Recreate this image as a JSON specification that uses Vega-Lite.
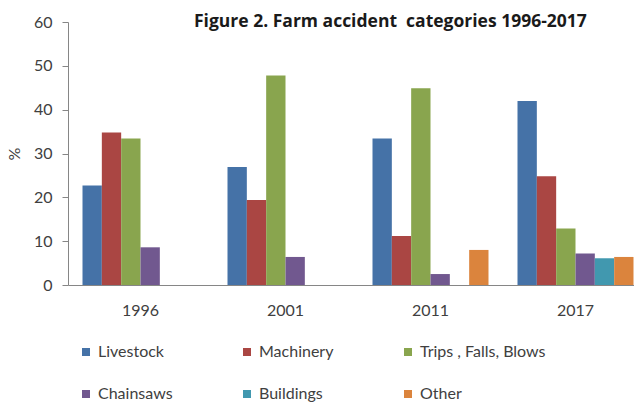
{
  "$schema": "https://vega.github.io/schema/vega-lite/v6.json",
  "width": 566,
  "height": 263,
  "autosize": {"type": "none"},
  "padding": {"left": 68, "top": 22, "right": 0, "bottom": 118},
  "background": "white",
  "title": {
    "text": "Figure 2. Farm accident\u00a0 categories 1996-2017",
    "anchor": "start",
    "frame": "group",
    "baseline": "alphabetic",
    "dx": 126,
    "dy": 30,
    "offset": 0,
    "font": "Open Sans",
    "fontSize": 17.5,
    "fontWeight": "bold",
    "color": "#1a1a1a"
  },
  "data": {
    "values": [
      {"year": "1996", "category": "Livestock", "value": 22.7},
      {"year": "1996", "category": "Machinery", "value": 34.8},
      {"year": "1996", "category": "Trips , Falls, Blows", "value": 33.4},
      {"year": "1996", "category": "Chainsaws", "value": 8.6},
      {"year": "2001", "category": "Livestock", "value": 26.9},
      {"year": "2001", "category": "Machinery", "value": 19.4},
      {"year": "2001", "category": "Trips , Falls, Blows", "value": 47.8},
      {"year": "2001", "category": "Chainsaws", "value": 6.4},
      {"year": "2011", "category": "Livestock", "value": 33.4},
      {"year": "2011", "category": "Machinery", "value": 11.2},
      {"year": "2011", "category": "Trips , Falls, Blows", "value": 44.9},
      {"year": "2011", "category": "Chainsaws", "value": 2.5},
      {"year": "2011", "category": "Other", "value": 8.0},
      {"year": "2017", "category": "Livestock", "value": 42.0},
      {"year": "2017", "category": "Machinery", "value": 24.8},
      {"year": "2017", "category": "Trips , Falls, Blows", "value": 12.9},
      {"year": "2017", "category": "Chainsaws", "value": 7.2},
      {"year": "2017", "category": "Buildings", "value": 6.1},
      {"year": "2017", "category": "Other", "value": 6.4}
    ]
  },
  "mark": {"type": "bar"},
  "encoding": {
    "x": {
      "field": "year",
      "type": "nominal",
      "scale": {"range": [0, 580], "paddingInner": 0.2, "paddingOuter": 0.1},
      "axis": {
        "title": null,
        "labelAngle": 0,
        "ticks": false,
        "labelPadding": 17,
        "domainColor": "#868686",
        "labelFontSize": 16,
        "labelFont": "Lato",
        "labelColor": "#404040"
      }
    },
    "xOffset": {
      "field": "category",
      "type": "nominal",
      "scale": {
        "domain": ["Livestock", "Machinery", "Trips , Falls, Blows", "Chainsaws", "Buildings", "Other"],
        "paddingInner": 0,
        "paddingOuter": 0
      }
    },
    "y": {
      "field": "value",
      "type": "quantitative",
      "scale": {"domain": [0, 60]},
      "axis": {
        "title": "%",
        "titleFont": "Lato",
        "titleFontSize": 16,
        "titleFontWeight": "normal",
        "titleColor": "#404040",
        "titlePadding": 11,
        "values": [0, 10, 20, 30, 40, 50, 60],
        "grid": false,
        "tickSize": 6,
        "tickColor": "#868686",
        "domainColor": "#868686",
        "labelPadding": 10,
        "labelFontSize": 16,
        "labelFont": "Lato",
        "labelColor": "#404040"
      }
    },
    "color": {
      "field": "category",
      "type": "nominal",
      "scale": {
        "domain": ["Livestock", "Machinery", "Trips , Falls, Blows", "Chainsaws", "Buildings", "Other"],
        "range": ["#4572A7", "#AA4643", "#89A54E", "#71588F", "#4198AF", "#DB843D"]
      },
      "legend": {
        "title": null,
        "orient": "none",
        "legendX": 10,
        "legendY": 322,
        "direction": "horizontal",
        "columns": 3,
        "columnPadding": 66,
        "rowPadding": 26,
        "symbolType": "square",
        "symbolSize": 64,
        "symbolStrokeWidth": 0,
        "labelFont": "Lato",
        "labelFontSize": 16,
        "labelColor": "#404040",
        "labelOffset": 4
      }
    }
  },
  "config": {"view": {"stroke": null}}
}
